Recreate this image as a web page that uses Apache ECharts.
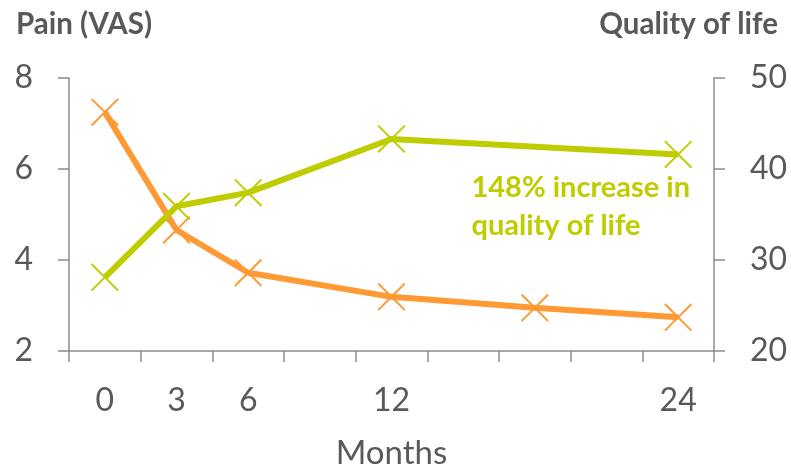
<!DOCTYPE html>
<html>
<head>
<meta charset="utf-8">
<script src="https://cdn.jsdelivr.net/npm/echarts@6/dist/echarts.min.js"></script>
<style>
html,body{margin:0;padding:0;background:#fff;}
#chart{width:791px;height:469px;}
</style>
</head>
<body>
<div id="chart"></div>
<script>
// Month slots (each slot = 3 months); only some are labelled
const months = ['0', '3', '6', '9', '12', '15', '18', '21', '24'];
const monthLabels = ['0', '3', '6', '', '12', '', '', '', '24'];
const painVAS = [7.25, 4.66, 3.72, null, 3.19, null, 2.95, null, 2.74];
const qualityOfLife = [28.1, 35.9, 37.4, null, 43.3, null, null, null, 41.6];
const painTicks = [2, 8, 2];        // min, max, interval
const qolTicks = [20, 50, 10];      // min, max, interval

const ORANGE = '#FF9933';
const GREEN = '#BFCC00';
const GREY_TEXT = '#595959';
const AXIS = '#8C8C8C';
const FONT = 'Lato';
const XMARK = 'path://M0,5L5,0L100,95L95,100ZM95,0L100,5L5,100L0,95Z';

const chart = echarts.init(document.getElementById('chart'), null, {renderer: 'canvas'});
const axisCommon = {
  axisLine: {show: true, lineStyle: {color: AXIS, width: 1.5}},
  axisTick: {show: true, length: 11, lineStyle: {color: AXIS, width: 1.5}},
  splitLine: {show: false},
  axisLabel: {color: GREY_TEXT, fontFamily: FONT, fontSize: 32, margin: 36}
};
chart.setOption({
  animation: false,
  textStyle: {fontFamily: FONT},
  grid: {left: 69, right: 77, top: 78, bottom: 118, containLabel: false, outerBoundsMode: 'none'},
  title: [
    {text: 'Pain (VAS)', left: 11, top: 4,
     textStyle: {fontFamily: FONT, fontWeight: 'bold', fontSize: 29.5, color: GREY_TEXT}},
    {text: 'Quality of life', right: 8, top: 4,
     textStyle: {fontFamily: FONT, fontWeight: 'bold', fontSize: 29.5, color: GREY_TEXT}}
  ],
  xAxis: {
    type: 'category',
    data: months,
    boundaryGap: true,
    name: 'Months',
    nameLocation: 'middle',
    nameGap: 86,
    nameTextStyle: {fontFamily: FONT, fontSize: 33, color: GREY_TEXT},
    axisLine: {show: true, lineStyle: {color: AXIS, width: 1.5}},
    axisTick: {show: true, length: 11, interval: 0, lineStyle: {color: AXIS, width: 1.5}},
    axisLabel: {color: GREY_TEXT, fontFamily: FONT, fontSize: 32, margin: 34, interval: 0,
      formatter: (v, i) => monthLabels[i]},
    splitLine: {show: false}
  },
  yAxis: [
    Object.assign({}, axisCommon, {
      type: 'value', position: 'left',
      min: painTicks[0], max: painTicks[1], interval: painTicks[2]
    }),
    Object.assign({}, axisCommon, {
      type: 'value', position: 'right',
      min: qolTicks[0], max: qolTicks[1], interval: qolTicks[2]
    })
  ],
  series: [
    {
      name: 'Pain (VAS)', type: 'line', yAxisIndex: 0,
      data: painVAS, connectNulls: true,
      lineStyle: {color: ORANGE, width: 6},
      itemStyle: {color: ORANGE},
      symbol: XMARK, symbolSize: 28, showAllSymbol: true,
      z: 2
    },
    {
      name: 'Quality of life', type: 'line', yAxisIndex: 1,
      data: qualityOfLife, connectNulls: true,
      lineStyle: {color: GREEN, width: 6},
      itemStyle: {color: GREEN},
      symbol: XMARK, symbolSize: 28, showAllSymbol: true,
      z: 3
    }
  ],
  graphic: [{
    type: 'text',
    right: 101, top: 169,
    style: {
      text: '148% increase in\nquality of life',
      fill: GREEN,
      font: 'bold 29px Lato',
      align: 'right',
      lineHeight: 38
    }
  }]
});
</script>
</body>
</html>
